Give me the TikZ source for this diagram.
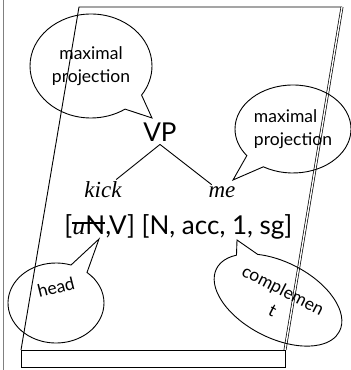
\documentclass[tikz,border=0pt]{standalone}
\usepackage{fontspec}
\setmainfont{Liberation Serif}
\setsansfont{Lato}
\usetikzlibrary{shapes.callouts}

\newcommand{\crossout}[1]{\setbox0\hbox{#1}\rlap{\rule[0.42em]{\wd0}{1.6pt}}\box0}

\tikzset{
  bubble/.style={ellipse callout, draw, inner sep=0pt, align=center,
    callout pointer arc=22, font=\sffamily\fontsize{17.5}{23}\selectfont},
  word/.style={inner sep=2pt, anchor=base, font=\itshape\fontsize{23}{25}\selectfont},
}

\begin{document}
\begin{tikzpicture}[x=1pt,y=1pt,line width=0.9pt]
\useasboundingbox (0,0) rectangle (351,370);
\draw[gray, line width=1.6pt] (3.5,0) -- (3.5,370);

% the page
\coordinate (ptl) at (79,363);
\coordinate (ptr) at (342,363);
\coordinate (pbr) at (285,20);
\coordinate (pbl) at (21,20);
\draw (pbl) -- (ptl) -- (ptr);
\draw[double, double distance=1.4pt, line width=0.7pt] (ptr) -- (pbr);
\draw (pbl) rectangle (285,3);

% tree
\node[inner sep=2pt, anchor=base, font=\sffamily\fontsize{26}{28}\selectfont] (vp) at (160,228) {VP};
\node[word] (kick) at (103,172) {kick};
\node[word] (me) at (222,172) {me};
\draw (vp.south) -- (kick);
\draw (vp.south) -- (me);

\node[inner sep=2pt, anchor=base west, font=\sffamily\fontsize{26}{28}\selectfont] (feats) at (62,135)
  {[\crossout{\textit{\rmfamily u}N},V] [N, acc, 1, sg]};

% bubbles
\node[bubble, minimum width=122, minimum height=104, callout absolute pointer={(152,252)}] (mp1) at (91,304) {maximal\\projection};
\node[bubble, align=left, minimum width=116, minimum height=88, callout absolute pointer={(233,190)}] (mp2) at (293,241) {maximal\\projection};
\node[bubble, minimum width=96, minimum height=80, callout absolute pointer={(99,131)}] (head) at (56,67) {\raisebox{5pt}[0pt][0pt]{\rotatebox{14}{head}}};
\node[bubble, rotate=-27, minimum width=138, minimum height=76, callout absolute pointer={(237,130)}] (comp) at (278,70) {complemen\\t};

\end{tikzpicture}
\end{document}
